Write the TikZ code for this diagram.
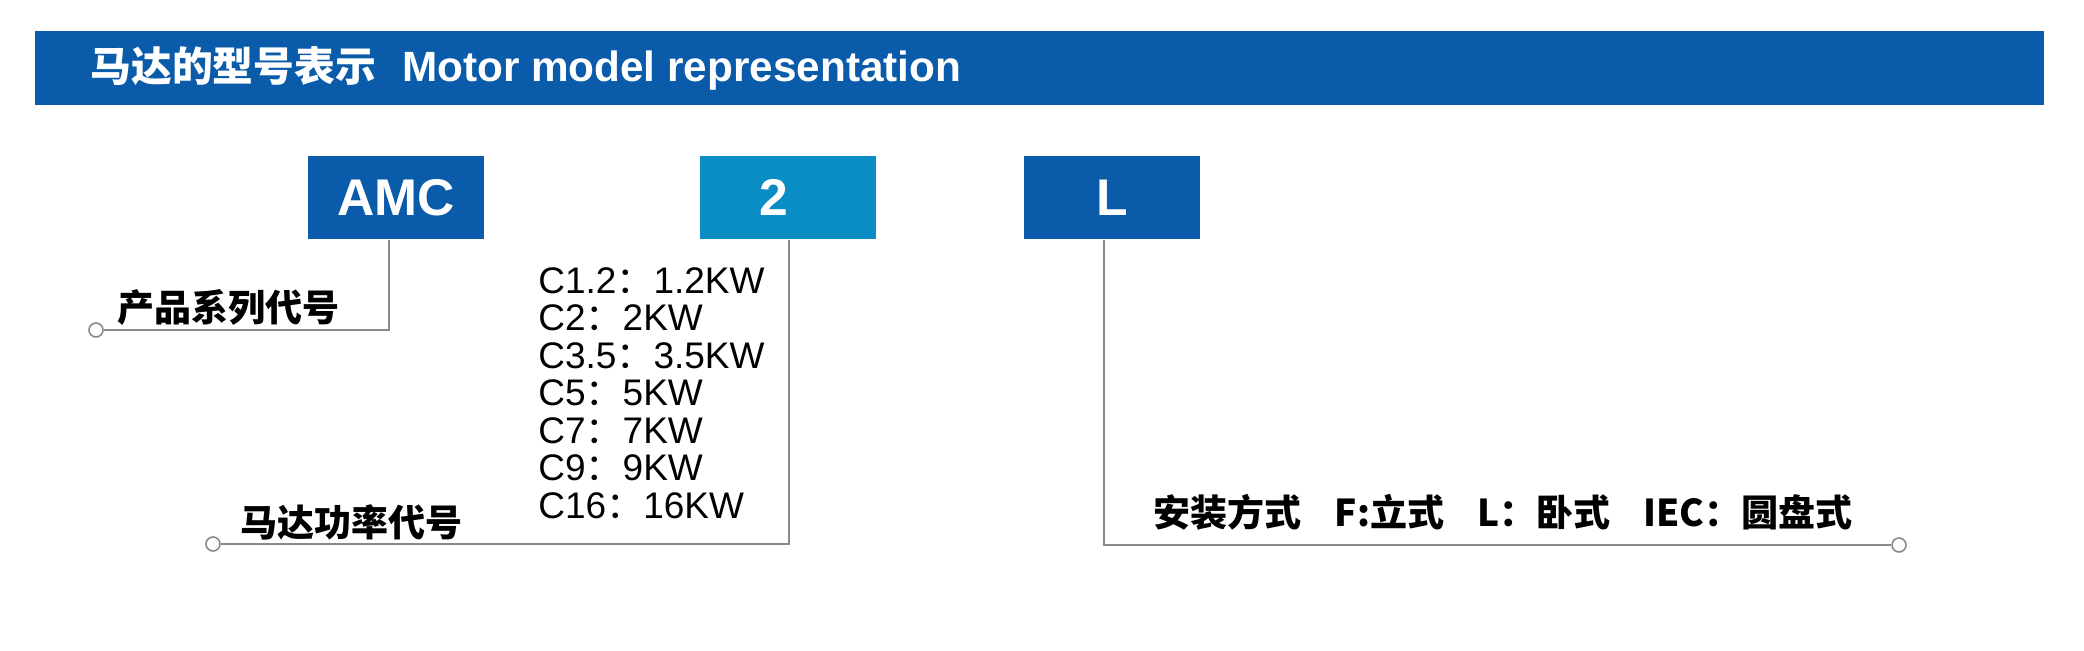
\documentclass[tikz,border=0pt]{standalone}
\usepackage{fontspec}
\setmainfont{Liberation Sans}
\newfontfamily\cjk{Noto Sans CJK SC}
\definecolor{bandblue}{HTML}{0A5BAA}
\definecolor{boxblue}{HTML}{0B5BAB}
\definecolor{boxcyan}{HTML}{0A8CC4}
\definecolor{linegray}{HTML}{8A8A8A}
\begin{document}
\begin{tikzpicture}[x=0.5pt,y=-0.5pt,
  codebox/.style={rectangle, inner sep=0pt, minimum width=88pt, minimum height=41.75pt, text=white, font=\fontsize{25.8pt}{30pt}\selectfont\bfseries},
  codetext/.style={inner sep=0pt, text=white, font=\fontsize{25.8pt}{30pt}\selectfont\bfseries},
  conn/.style={draw=linegray, line width=0.9pt},
  enddot/.style={circle, draw=linegray, fill=white, line width=0.8pt, inner sep=0pt, minimum size=7pt},
  cjklabel/.style={inner sep=0pt, anchor=west, font=\cjk\fontsize{18.5pt}{21pt}\selectfont\bfseries},
  item/.style={inner sep=0pt, anchor=base west, font=\fontsize{18.5pt}{20pt}\selectfont}]
\useasboundingbox (0,0) rectangle (2084,650);
\fill[white] (0,0) rectangle (2084,650);
\node[fill=bandblue, inner sep=0pt, minimum width=1004.7pt, minimum height=37.2pt] (band) at (1039.3,67.8) {};
\node[anchor=base west, inner sep=0pt, text=white] (title) at (90,81)
  {{\cjk\fontsize{20.4pt}{24pt}\selectfont\bfseries 马达的型号表示}\hspace{13pt}{\fontsize{21.15pt}{24pt}\selectfont\bfseries Motor model representation}};
\node[codebox, fill=boxblue] (amc) at (396,197.5) {AMC};
\node[codebox, fill=boxcyan] (two) at (788,197.5) {};
\node[codetext] (twotxt) at ([xshift=-7pt]two.center) {2};
\node[codebox, fill=boxblue] (mnt) at (1112,197.5) {L};
\node[enddot] (d1) at (96,330) {};
\node[enddot] (d2) at (213,544) {};
\node[enddot] (d3) at (1899,545) {};
\draw[conn] ([xshift=-3.5pt]amc.south) |- (d1.east);
\draw[conn] ([xshift=0.5pt]two.south) |- (d2.east);
\draw[conn] ([xshift=-4pt]mnt.south) |- (d3.west);
\node[cjklabel] (l1) at (117,308) {产品系列代号};
\node[cjklabel] (l2) at (240,522) {马达功率代号};
\node[cjklabel] (l3) at (1153,512.5) {安装方式\hspace{0.9em}F:立式\hspace{0.9em}L：卧式\hspace{0.9em}IEC：圆盘式};
\foreach \t [count=\i] in {C1.2{\cjk ：}1.2KW, C2{\cjk ：}2KW, C3.5{\cjk ：}3.5KW, C5{\cjk ：}5KW, C7{\cjk ：}7KW, C9{\cjk ：}9KW, C16{\cjk ：}16KW}
  \node[item] (p\i) at (538,{293+37.5*(\i-1)}) {\t};
\end{tikzpicture}
\end{document}
